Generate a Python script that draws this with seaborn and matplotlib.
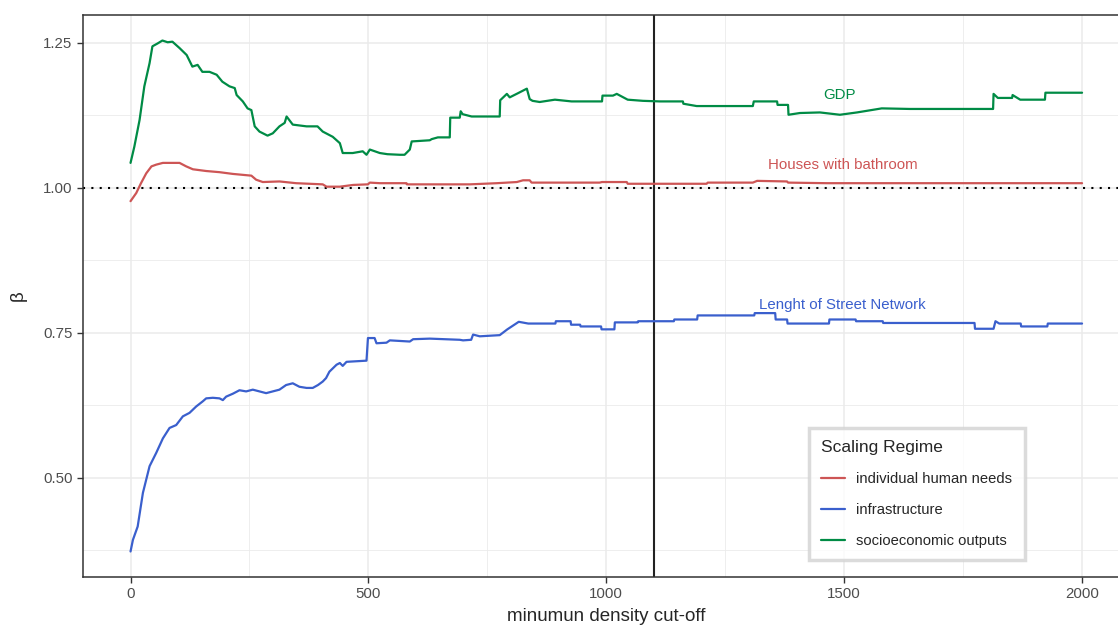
import pandas as pd
import numpy as np
import matplotlib
matplotlib.use("Agg")
import matplotlib.pyplot as plt
import seaborn as sns

# values
gdp_x = [0, 8, 19, 29, 40, 46, 57, 67, 78, 88, 103, 118, 130, 141, 151, 166, 181, 193, 208, 219,
         223, 236, 246, 254, 261, 271, 288, 299, 313, 324, 328, 341, 370, 393, 404, 425, 440, 446,
         467, 488, 496, 503, 524, 540, 566, 576, 587, 591, 629, 633, 646, 671, 672, 692, 694, 698,
         717, 776, 777, 791, 797, 814, 833, 839, 845, 860, 892, 927, 991, 992, 1014, 1022, 1045,
         1077, 1113, 1161, 1162, 1190, 1308, 1310, 1359, 1360, 1382, 1383, 1407, 1449, 1491, 1527,
         1579, 1638, 1813, 1814, 1823, 1853, 1854, 1870, 1922, 1923, 2000]
gdp_y = [1.043, 1.071, 1.117, 1.175, 1.215, 1.244, 1.249, 1.254, 1.251, 1.252, 1.241, 1.229, 1.209,
         1.212, 1.200, 1.200, 1.195, 1.183, 1.175, 1.172, 1.160, 1.149, 1.137, 1.134, 1.106, 1.097,
         1.090, 1.094, 1.106, 1.112, 1.123, 1.109, 1.106, 1.106, 1.097, 1.088, 1.077, 1.060, 1.060,
         1.063, 1.057, 1.066, 1.060, 1.058, 1.057, 1.057, 1.066, 1.080, 1.082, 1.084, 1.087, 1.087,
         1.121, 1.121, 1.132, 1.127, 1.123, 1.123, 1.151, 1.162, 1.156, 1.163, 1.171, 1.153, 1.150,
         1.148, 1.152, 1.149, 1.149, 1.159, 1.159, 1.162, 1.152, 1.150, 1.149, 1.149, 1.145, 1.141,
         1.141, 1.149, 1.149, 1.143, 1.143, 1.126, 1.129, 1.130, 1.126, 1.130, 1.137, 1.136, 1.136,
         1.162, 1.155, 1.155, 1.160, 1.152, 1.152, 1.164, 1.164]

bath_x = [0, 12, 22, 33, 44, 54, 68, 103, 117, 131, 159, 187, 215, 254, 264, 278, 313, 348, 404,
          412, 440, 468, 499, 503, 524, 580, 581, 713, 770, 812, 825, 839, 843, 986, 991, 1043, 1045,
          1211, 1213, 1308, 1317, 1380, 1382, 1464, 2000]
bath_y = [0.977, 0.991, 1.008, 1.025, 1.037, 1.040, 1.043, 1.043, 1.037, 1.032, 1.029, 1.027, 1.024,
          1.021, 1.014, 1.010, 1.011, 1.008, 1.006, 1.002, 1.002, 1.005, 1.006, 1.009, 1.008, 1.008,
          1.006, 1.006, 1.008, 1.010, 1.013, 1.013, 1.009, 1.009, 1.010, 1.010, 1.007, 1.007, 1.009,
          1.009, 1.012, 1.011, 1.009, 1.008, 1.008]

street_x = [0, 5, 15, 26, 40, 54, 68, 82, 96, 110, 124, 138, 152, 159, 173, 187, 194, 201, 215, 229,
            243, 257, 271, 285, 299, 313, 327, 341, 355, 370, 383, 394, 404, 411, 418, 433, 440, 446,
            454, 496, 499, 513, 517, 538, 545, 587, 594, 629, 692, 699, 716, 720, 734, 776, 792, 816,
            836, 893, 894, 925, 926, 945, 946, 989, 990, 1017, 1018, 1066, 1067, 1142, 1143, 1191,
            1192, 1311, 1312, 1355, 1356, 1380, 1381, 1468, 1469, 1524, 1525, 1581, 1582, 1774, 1775,
            1814, 1818, 1826, 1871, 1872, 1927, 1928, 2000]
street_y = [0.373, 0.393, 0.416, 0.474, 0.520, 0.543, 0.568, 0.586, 0.591, 0.606, 0.612, 0.623, 0.632,
            0.637, 0.638, 0.637, 0.634, 0.640, 0.645, 0.651, 0.649, 0.652, 0.649, 0.646, 0.649, 0.652,
            0.660, 0.663, 0.657, 0.655, 0.655, 0.660, 0.666, 0.672, 0.683, 0.695, 0.698, 0.693, 0.700,
            0.702, 0.741, 0.741, 0.732, 0.733, 0.737, 0.735, 0.739, 0.740, 0.738, 0.737, 0.738, 0.747,
            0.744, 0.746, 0.756, 0.769, 0.766, 0.766, 0.770, 0.770, 0.764, 0.764, 0.761, 0.761, 0.756,
            0.756, 0.768, 0.768, 0.770, 0.770, 0.773, 0.773, 0.780, 0.780, 0.784, 0.784, 0.773, 0.773,
            0.766, 0.766, 0.773, 0.773, 0.770, 0.770, 0.767, 0.767, 0.757, 0.757, 0.770, 0.766, 0.766,
            0.761, 0.761, 0.766, 0.766]

regimes = ["individual human needs", "infrastructure", "socioeconomic outputs"]
colors = ["#CD5555", "#3A5FCD", "#008B45"]
labels = ["Houses with bathroom", "Lenght of Street Network", "GDP"]
label_pos = [(1497, 1.040), (1497, 0.798), (1490, 1.160)]
cutoff = 1100

df = pd.concat([
    pd.DataFrame({"x": bath_x, "beta": bath_y, "regime": regimes[0]}),
    pd.DataFrame({"x": street_x, "beta": street_y, "regime": regimes[1]}),
    pd.DataFrame({"x": gdp_x, "beta": gdp_y, "regime": regimes[2]}),
], ignore_index=True)

sns.set_theme(style="white")
plt.rcParams["font.family"] = ["Liberation Sans", "DejaVu Sans"]

fig = plt.figure(figsize=(11.18, 6.25), dpi=100)
ax = fig.add_axes([0.0742, 0.0768, 0.9362, 0.8992])

sns.lineplot(data=df, x="x", y="beta", hue="regime", hue_order=regimes,
             palette=dict(zip(regimes, colors)), estimator=None, sort=False,
             linewidth=1.6, ax=ax)

ax.axhline(1.0, color="black", linestyle=(0, (1, 3)), linewidth=1.5, zorder=1)
ax.axvline(cutoff, color="#222222", linewidth=1.5, zorder=1)

for txt, (tx, ty), c in zip(labels, label_pos, colors):
    ax.text(tx, ty, txt, color=c, fontsize=10.8, ha="center", va="center")

ax.set_xlim(-100, 2100)
ax.set_ylim(0.329, 1.298)
ax.set_xticks([0, 500, 1000, 1500, 2000])
ax.set_xticks([250, 750, 1250, 1750], minor=True)
ax.set_yticks([0.5, 0.75, 1.0, 1.25])
ax.set_yticks([0.375, 0.625, 0.875, 1.125], minor=True)
ax.set_yticklabels(["0.50", "0.75", "1.00", "1.25"])
ax.grid(which="major", color="#EBEBEB", linewidth=1.1, zorder=0)
ax.grid(which="minor", color="#EBEBEB", linewidth=0.6, zorder=0)
ax.set_axisbelow(True)
ax.tick_params(which="major", length=4, width=1, color="#333333", labelsize=10.8,
               labelcolor="#4D4D4D", direction="out", bottom=True, left=True)
ax.tick_params(which="minor", length=0)
for s in ax.spines.values():
    s.set_color("#333333")
    s.set_linewidth(1.1)

ax.set_xlabel("minumun density cut-off", fontsize=13.5, labelpad=5)
ax.set_ylabel("β", fontsize=13.5, labelpad=12)

leg = ax.legend(title="Scaling Regime", loc="upper right", bbox_to_anchor=(0.907, 0.279),
                fontsize=10.6, title_fontsize=12.5, frameon=True, fancybox=False,
                handlelength=1.6, labelspacing=1.15, borderpad=0.85, alignment="left")
leg.get_frame().set_edgecolor("#D3D3D3")
leg.get_frame().set_linewidth(2.5)

fig.savefig("out.png", dpi=100)
